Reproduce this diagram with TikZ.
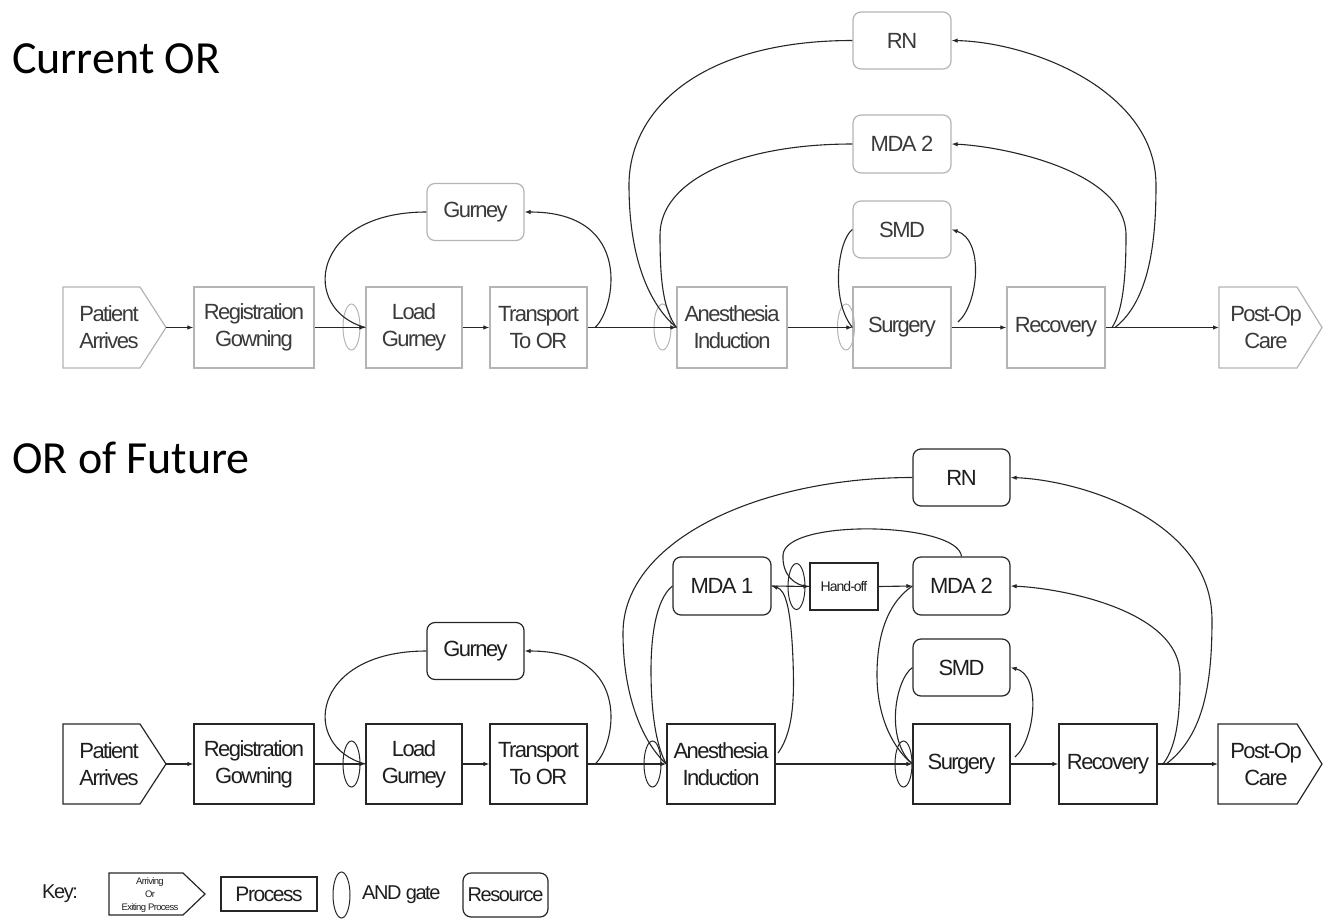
\documentclass[tikz,border=0pt]{standalone}
\usepackage{fontspec}
\setmainfont{Liberation Sans}
\newfontfamily\boxfont{Liberation Sans}[LetterSpace=-7]
\newfontfamily\headfont{Carlito}
\usetikzlibrary{arrows.meta,shapes.geometric}

\definecolor{faint}{HTML}{B4B4B4}
\definecolor{ink}{HTML}{262626}
\definecolor{txtA}{HTML}{3A3A3A}
\definecolor{txtB}{HTML}{1E1E1E}

\tikzset{
  base/.style={inner sep=0pt, align=center, font=\boxfont\fontsize{22}{27}\selectfont},
  procA/.style={base, text=txtA, draw=faint, line width=1.2pt, minimum height=81pt},
  resA/.style={procA, rounded corners=8pt, minimum height=57pt},
  procB/.style={base, text=txtB, draw=ink, line width=1.2pt, minimum height=80pt},
  resB/.style={procB, rounded corners=8pt, minimum height=57pt},
  txtonlyA/.style={base, text=txtA},
  txtonlyB/.style={base, text=txtB},
  gateA/.style={ellipse, draw=faint, line width=1pt, minimum width=17pt, minimum height=46pt, inner sep=0pt},
  gateB/.style={gateA, draw=ink},
  flow/.style={draw=ink, line width=1.1pt, -{Latex[length=6pt,width=4.5pt]}},
  link/.style={draw=ink, line width=1.1pt},
  outlA/.style={draw=faint, line width=1.2pt},
  outlB/.style={draw=ink, line width=1.2pt},
  head/.style={anchor=base west, inner sep=0pt, font=\headfont\fontsize{46}{50}\selectfont, text=black}
}

\begin{document}
\begin{tikzpicture}[x=1pt,y=-1pt]
\useasboundingbox (0,0) rectangle (1331,921);

% ---------------- Current OR ----------------
\node[head] (h1) at (12,73) {Current OR};

% entry / exit pentagons
\draw[outlA] (63,287) -- (140,287) -- (166,327.5) -- (140,368) -- (63,368) -- cycle;
\node[txtonlyA] (pa1) at (109,327.5) {Patient\\Arrives};
\coordinate (pa1tip) at (166,327.5);
\draw[outlA] (1219,287) -- (1297,287) -- (1322,327.5) -- (1297,368) -- (1219,368) -- cycle;
\node[txtonlyA] (po1) at (1266,327.5) {Post-Op\\Care};
\coordinate (po1in) at (1219,327.5);

% processes
\node[procA, minimum width=120pt] (rg1) at (254,327.5) {Registration\\Gowning};
\node[procA, minimum width=96pt]  (ld1) at (414,327.5) {Load\\Gurney};
\node[procA, minimum width=97pt]  (tr1) at (538.5,327.5) {Transport\\To OR};
\node[procA, minimum width=110pt] (an1) at (732,327.5) {Anesthesia\\Induction};
\node[procA, minimum width=98pt]  (su1) at (902,327.5) {Surgery};
\node[procA, minimum width=98pt]  (rc1) at (1056,327.5) {Recovery};

% resources
\node[resA, minimum width=97pt] (gu1) at (475.5,212) {Gurney};
\node[resA, minimum width=98pt] (rn1) at (902,40.5) {RN};
\node[resA, minimum width=98pt, minimum height=58pt] (md1) at (902,144) {MDA 2};
\node[resA, minimum width=98pt] (sm1) at (902,229.5) {SMD};

% AND gates
\node[gateA] (gl1) at (351.5,327) {};
\node[gateA] (ga1) at (662.5,327) {};
\node[gateA] (gs1) at (846,327) {};

% main flow
\draw[flow] (pa1tip) -- (rg1.west);
\draw[flow] (rg1.east) -- (ld1.west);
\draw[flow] (ld1.east) -- (tr1.west);
\draw[flow] (tr1.east) -- (an1.west);
\draw[flow] (an1.east) -- (su1.west);
\draw[flow] (su1.east) -- (rc1.west);
\draw[flow] (rc1.east) -- (po1in);

% resource loops
\coordinate (tr1o) at (595,327.5);
\coordinate (su1o) at (958,322);
\coordinate (rc1a) at (1112,327.5);
\coordinate (rc1b) at (1115,327.5);
\draw[link] (gu1.west) .. controls (310,212) and (300,310) .. (ld1.west);
\draw[flow] (tr1o) .. controls (615,310) and (635,212) .. (gu1.east);
\draw[link] (rn1.west) .. controls (700,40.5) and (629,110) .. (629,185)
                     .. controls (629,260) and (650,305) .. (an1.west);
\draw[link] (md1.west) .. controls (740,144) and (660,180) .. (660,235)
                     .. controls (660,285) and (664,310) .. (an1.west);
\draw[link] (sm1.west) .. controls (838,240) and (830,300) .. (su1.west);
\draw[flow] (su1o) .. controls (978,305) and (985,240) .. (sm1.east);
\draw[flow] (rc1a) .. controls (1124,310) and (1126,270) .. (1126,235)
                   .. controls (1126,170) and (1000,146) .. (md1.east);
\draw[flow] (rc1b) .. controls (1150,300) and (1156,240) .. (1156,185)
                   .. controls (1156,90) and (1030,42) .. (rn1.east);

% ---------------- OR of Future ----------------
\node[head] (h2) at (12,473) {OR of Future};

\draw[outlB] (63,724) -- (140,724) -- (166,764) -- (140,804) -- (63,804) -- cycle;
\node[txtonlyB] (pa2) at (109,764) {Patient\\Arrives};
\coordinate (pa2tip) at (166,764);
\draw[outlB] (1218,724) -- (1297,724) -- (1322,764) -- (1297,804) -- (1218,804) -- cycle;
\node[txtonlyB] (po2) at (1266,764) {Post-Op\\Care};
\coordinate (po2in) at (1218,764);

\node[procB, minimum width=120pt] (rg2) at (254,764) {Registration\\Gowning};
\node[procB, minimum width=96pt]  (ld2) at (414,764) {Load\\Gurney};
\node[procB, minimum width=97pt]  (tr2) at (538.5,764) {Transport\\To OR};
\node[procB, minimum width=108pt] (an2) at (721,764) {Anesthesia\\Induction};
\node[procB, minimum width=97pt]  (su2) at (961.5,764) {Surgery};
\node[procB, minimum width=98pt]  (rc2) at (1108,764) {Recovery};

\node[resB, minimum width=97pt] (gu2) at (475.5,651) {Gurney};
\node[resB, minimum width=97pt] (rn2) at (961.5,477.5) {RN};
\node[resB, minimum width=98pt, minimum height=58pt] (ma2) at (722,586) {MDA 1};
\node[resB, minimum width=97pt, minimum height=58pt] (mb2) at (961.5,586) {MDA 2};
\node[resB, minimum width=97pt] (sm2) at (961.5,667.5) {SMD};
\node[procB, minimum width=68pt, minimum height=47pt, font=\boxfont\fontsize{14}{16}\selectfont] (ho2) at (844,586.5) {Hand-off};

\node[gateB] (gl2) at (351.5,764) {};
\node[gateB] (ga2) at (652.5,764) {};
\node[gateB] (gs2) at (903.5,764) {};
\node[gateB] (gh2) at (796.5,586.5) {};

\draw[flow] (pa2tip) -- (rg2.west);
\draw[flow] (rg2.east) -- (ld2.west);
\draw[flow] (ld2.east) -- (tr2.west);
\draw[flow] (tr2.east) -- (an2.west);
\draw[flow] (an2.east) -- (su2.west);
\draw[flow] (su2.east) -- (rc2.west);
\draw[flow] (rc2.east) -- (po2in);
\draw[flow] (ma2.east) -- (ho2.west);
\draw[flow] (ho2.east) -- (mb2.west);

\coordinate (tr2o) at (595,764);
\coordinate (an2o) at (778,753);
\coordinate (su2o) at (1015,757);
\coordinate (rc2a) at (1163,764);
\coordinate (rc2b) at (1166,764);
\draw[link] (gu2.west) .. controls (310,651) and (300,747) .. (ld2.west);
\draw[flow] (tr2o) .. controls (615,747) and (635,651) .. (gu2.east);
\draw[link] (rn2.west) .. controls (760,477.5) and (623,540) .. (623,633)
                     .. controls (623,700) and (645,745) .. (an2.west);
\draw[link] (ma2.west) .. controls (655,600) and (651,640) .. (651,670)
                     .. controls (651,720) and (658,750) .. (an2.west);
\draw[flow] (an2o) .. controls (795,730) and (794,690) .. (793,660)
                   .. controls (791,610) and (786,590) .. (ma2.east);
\draw[link] (mb2.north) .. controls (958,522) and (785,518) .. (783,555)
                      .. controls (782,575) and (795,586.5) .. (ho2.west);
\draw[link] (mb2.west) .. controls (885,605) and (877,640) .. (877,675)
                     .. controls (877,720) and (895,750) .. (su2.west);
\draw[link] (sm2.west) .. controls (895,680) and (885,740) .. (su2.west);
\draw[flow] (su2o) .. controls (1035,740) and (1042,675) .. (sm2.east);
\draw[flow] (rc2a) .. controls (1178,745) and (1180,710) .. (1180,675)
                   .. controls (1180,610) and (1060,588) .. (mb2.east);
\draw[flow] (rc2b) .. controls (1205,735) and (1212,680) .. (1212,620)
                   .. controls (1212,520) and (1080,480) .. (rn2.east);

% ---------------- Key ----------------
\node[txtonlyB, anchor=west, font=\boxfont\fontsize{20}{24}\selectfont] (k0) at (42,894) {Key:};
\draw[outlB] (109,873) -- (183,873) -- (205,894) -- (183,915) -- (109,915) -- cycle;
\node[txtonlyB, font=\boxfont\fontsize{9.5}{13}\selectfont] (k1) at (150,895) {Arriving\\Or\\Exiting Process};
\node[procB, minimum width=96pt, minimum height=34pt, font=\boxfont\fontsize{21}{24}\selectfont] (k2) at (269,894) {Process};
\node[gateB] (k3) at (341.5,895) {};
\node[txtonlyB, anchor=west, font=\boxfont\fontsize{20}{24}\selectfont] (k4) at (362,895) {AND gate};
\node[resB, minimum width=85pt, minimum height=44pt, font=\boxfont\fontsize{20}{24}\selectfont] (k5) at (505.5,895) {Resource};
\end{tikzpicture}
\end{document}
